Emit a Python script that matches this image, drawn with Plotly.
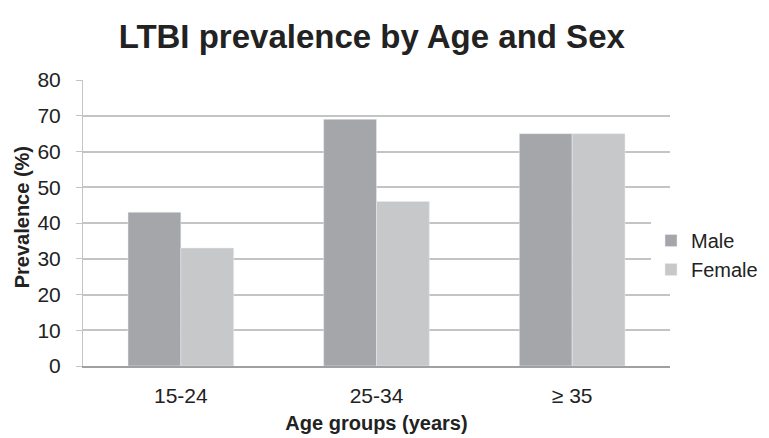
import plotly.graph_objects as go

categories = ["15-24", "25-34", "≥ 35"]
male = [43, 69, 65]
female = [33, 46, 65]
y_ticks = [0, 10, 20, 30, 40, 50, 60, 70, 80]

font = "Liberation Sans, Arial, sans-serif"
fig = go.Figure()
fig.add_trace(go.Bar(x=categories, y=male, name="Male", marker_color="#a5a6a9"))
fig.add_trace(go.Bar(x=categories, y=female, name="Female", marker_color="#c7c8ca"))

# page body has an 8px margin, so the figure is drawn 8px smaller and shifted
W, H = 761, 430
L, R_PLOT = 75, 662
fig.update_layout(
    width=W, height=H,
    margin=dict(l=L, r=0, t=72, b=72, autoexpand=False),
    paper_bgcolor="white", plot_bgcolor="white",
    barmode="group", bargap=0.46, bargroupgap=0,
    font=dict(family=font, color="#222222", size=21),
    title=dict(text="<b>LTBI prevalence by Age and Sex</b>", x=0.478, xanchor="center",
               y=0.935, yanchor="middle", font=dict(size=33, color="#222222")),
    legend=dict(x=(643 - L) / (W - L), y=0.388,
                xanchor="left", yanchor="middle",
                font=dict(size=20), tracegroupgap=0, itemwidth=30),
    showlegend=True,
    annotations=[dict(text="<b>Prevalence (%)</b>", textangle=-90, xref="paper", yref="paper",
                      x=(14 - L) / (W - L), y=0.52, xanchor="center", yanchor="middle",
                      showarrow=False, font=dict(size=20, color="#222222"))],
)
fig.update_xaxes(domain=[0, (R_PLOT - L) / (W - L)],
                 showline=True, linecolor="#a0a0a0", linewidth=1.5, ticks="",
                 ticklabelstandoff=10, automargin=False,
                 title=dict(text="<b>Age groups (years)</b>", font=dict(size=20), standoff=10))
fig.update_yaxes(range=[0, 80], tickvals=y_ticks, showgrid=True, gridcolor="#c4c4c4", gridwidth=1.5,
                 showline=True, linecolor="#c4c4c4", linewidth=1, ticks="outside", ticklen=6,
                 tickcolor="#c4c4c4", zeroline=False, ticklabelstandoff=11, automargin=False)

fig.write_html("out.html")
